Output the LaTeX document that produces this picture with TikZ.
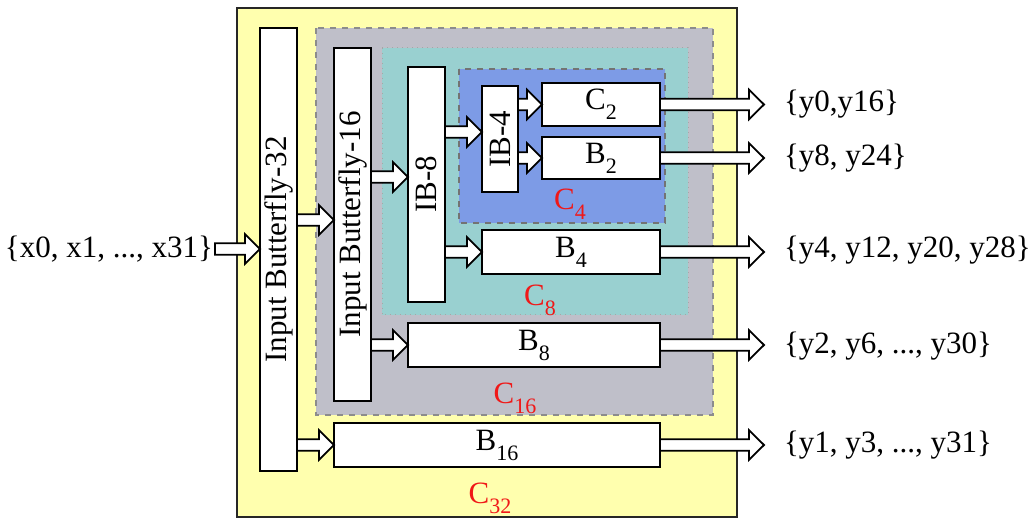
\documentclass[tikz,border=0pt]{standalone}
\usepackage{fontspec}
\setmainfont{Liberation Serif}
\usetikzlibrary{calc}
\newcommand{\lsub}[1]{\raisebox{-0.32em}{\fontsize{11pt}{11pt}\selectfont #1}}
\definecolor{cyel}{HTML}{FFFFAE}
\definecolor{cgray}{HTML}{BFBFC9}
\definecolor{cteal}{HTML}{99D0D0}
\definecolor{cblue}{HTML}{7D9BE6}
\definecolor{cred}{HTML}{F01818}
\tikzset{
  blk/.style={draw=black, fill=white, line width=1pt, inner sep=0pt, outer sep=0pt,
    font=\fontsize{15.5pt}{18pt}\selectfont},
  lbl/.style={inner sep=0pt, outer sep=0pt, font=\fontsize{15.5pt}{18pt}\selectfont},
  clbl/.style={inner sep=0pt, outer sep=0pt, text=cred, font=\fontsize{15.5pt}{18pt}\selectfont},
  barrow/.style={draw=black, fill=white, line width=0.9pt, line join=miter,
    to path={let \p1=(\tikztostart), \p2=(\tikztotarget) in
      (\x1,\y1+2.9pt) -- (\x2-7.5pt,\y1+2.9pt) -- (\x2-7.5pt,\y1+7.4pt) -- (\x2,\y1)
      -- (\x2-7.5pt,\y1-7.4pt) -- (\x2-7.5pt,\y1-2.9pt) -- (\x1,\y1-2.9pt) -- cycle}}
}
\begin{document}
\begin{tikzpicture}[x=0.5pt, y=-0.5pt]
\useasboundingbox (0,0) rectangle (1030,518);
% containers
\draw[fill=cyel, draw=black!85, line width=1pt] (237,8) rectangle (737,517);
\draw[fill=cgray, draw=black!45, dashed, line width=0.6pt] (316,28) rectangle (713,415);
\draw[fill=cteal, draw=black!35, dotted, line width=0.5pt] (382,48) rectangle (688,315);
\draw[fill=cblue, draw=black!55, dashed, line width=0.6pt] (459,69) rectangle (665,223);
% container labels
\node[clbl] (lc4) at (570,204) {C\lsub{4}};
\node[clbl] (lc8) at (540,300) {C\lsub{8}};
\node[clbl] (lc16) at (515,398) {C\lsub{16}};
\node[clbl] (lc32) at (490,498) {C\lsub{32}};
% blocks
\node[blk, rotate=90, minimum width=221.5pt, minimum height=18.5pt] (ib32) at (278.5,249.5) {Input Butterfly-32};
\node[blk, rotate=90, minimum width=176.5pt, minimum height=18.5pt] (ib16) at (352.5,224.5) {Input Butterfly-16};
\node[blk, rotate=90, minimum width=117.5pt, minimum height=18.5pt] (ib8) at (426.5,184.5) {IB-8};
\node[blk, rotate=90, minimum width=53pt, minimum height=18pt] (ib4) at (500,139) {IB-4};
\node[blk, minimum width=59pt, minimum height=21.5pt] (c2) at (601,104.5) {C\lsub{2}};
\node[blk, minimum width=59pt, minimum height=21pt] (b2) at (601,158) {B\lsub{2}};
\node[blk, minimum width=89pt, minimum height=22pt] (b4) at (571,252) {B\lsub{4}};
\node[blk, minimum width=126pt, minimum height=22pt] (b8) at (534,345) {B\lsub{8}};
\node[blk, minimum width=163pt, minimum height=22pt] (b16) at (497,445) {B\lsub{16}};
% inputs / outputs
\node[lbl, anchor=east] (xin) at (213,249) {\{x0, x1, ..., x31\}};
\node[lbl, anchor=west] (y1) at (784,104.5) {\{y0,y16\}};
\node[lbl, anchor=west] (y2) at (784,158) {\{y8, y24\}};
\node[lbl, anchor=west] (y3) at (784,250) {\{y4, y12, y20, y28\}};
\node[lbl, anchor=west] (y4) at (784,346) {\{y2, y6, ..., y30\}};
\node[lbl, anchor=west] (y5) at (784,445) {\{y1, y3, ..., y31\}};
% helper levels
\coordinate (l249) at (0,249);
\coordinate (l220) at (0,220);
\coordinate (l177) at (0,177);
\coordinate (l132) at (0,132);
% arrows
\draw[barrow] ([xshift=1pt]xin.east |- l249) to (ib32.north |- l249);
\draw[barrow] (ib32.south |- l220) to (ib16.north |- l220);
\draw[barrow] (ib16.south |- l177) to (ib8.north |- l177);
\draw[barrow] (ib8.south |- l132) to (ib4.north |- l132);
\draw[barrow] (ib4.south |- c2.west) to (c2.west);
\draw[barrow] (ib4.south |- b2.west) to (b2.west);
\draw[barrow] (ib8.south |- b4.west) to (b4.west);
\draw[barrow] (ib16.south |- b8.west) to (b8.west);
\draw[barrow] (ib32.south |- b16.west) to (b16.west);
\draw[barrow] (c2.east) to ([xshift=-10pt]y1.west |- c2.east);
\draw[barrow] (b2.east) to ([xshift=-10pt]y2.west |- b2.east);
\draw[barrow] (b4.east) to ([xshift=-10pt]y3.west |- b4.east);
\draw[barrow] (b8.east) to ([xshift=-10pt]y4.west |- b8.east);
\draw[barrow] (b16.east) to ([xshift=-10pt]y5.west |- b16.east);
\end{tikzpicture}
\end{document}
